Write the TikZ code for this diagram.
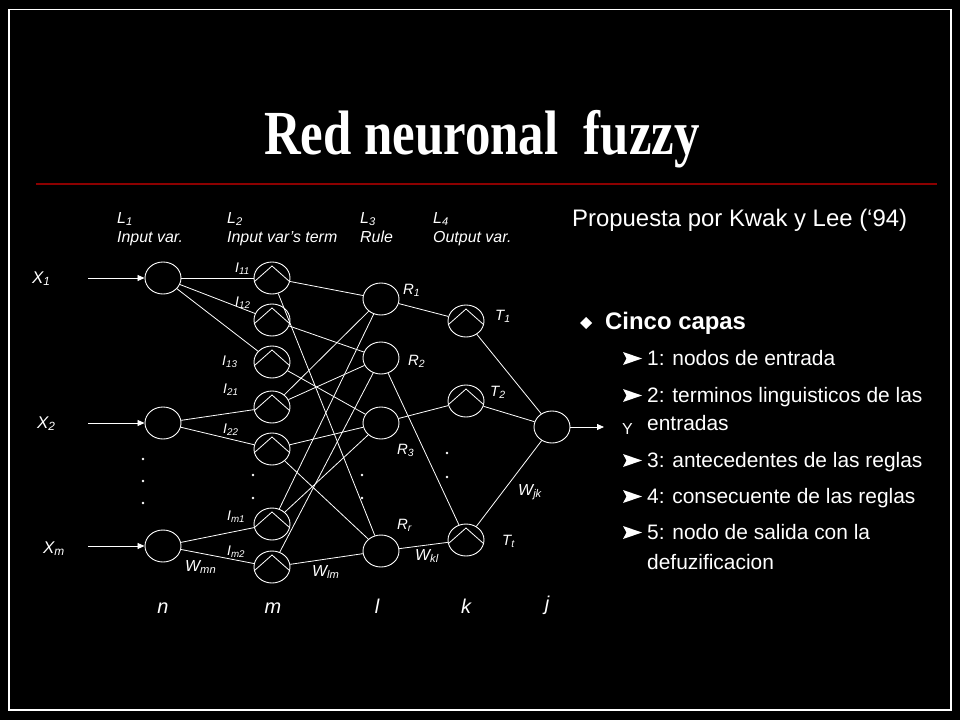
\documentclass[tikz,border=0pt]{standalone}
\usepackage{graphicx}
\usepackage{fontspec}
\setmainfont{Liberation Sans}
\newfontfamily\titlefont{Liberation Serif}
\usetikzlibrary{shapes.geometric,arrows.meta}
\newcommand\myfs[1]{\fontsize{#1}{#1}\selectfont}
\newcommand\sbs[1]{\textsubscript{#1}}
\definecolor{titleline}{RGB}{140,0,0}
\begin{document}
\begin{tikzpicture}[x=1bp,y=-1bp,
  every node/.style={text=white, inner sep=0pt},
  neuron/.style={ellipse, draw=white, line width=0.9bp, minimum width=36bp, minimum height=32bp, inner sep=0pt},
  conn/.style={draw=white, line width=0.8bp},
  arr/.style={conn, -{Triangle[length=7bp,width=6bp]}},
  lbl/.style={anchor=base west, font=\itshape\myfs{16}},
  tlbl/.style={anchor=base west, font=\itshape\myfs{14}},
  rlbl/.style={anchor=base west, font=\itshape\myfs{15}},
  wlbl/.style={anchor=base west, font=\itshape\myfs{16}},
  xlbl/.style={anchor=base west, font=\itshape\myfs{17}},
  blbl/.style={anchor=base, font=\itshape\myfs{20}},
  item/.style={anchor=base west, font=\myfs{21}},
  dotmark/.style={fill=white}
]
\fill[black] (0,0) rectangle (960,720);
\useasboundingbox (0,0) rectangle (960,720);
\draw[white, line width=1.5bp] (9,9.5) rectangle (951,710);

% title
\node[anchor=base, font=\titlefont\bfseries\myfs{63}] (title) at (482,155) {\scalebox{0.81}[1]{Red neuronal\hspace{0.25em} fuzzy}};
\draw[titleline, line width=1.5bp] (36,184) -- (937,184);

% layer headers
\node[lbl] (h1a) at (117,223) {L\sbs{1}};
\node[lbl] (h1b) at (117,242) {Input var.};
\node[lbl] (h2a) at (227,223) {L\sbs{2}};
\node[lbl] (h2b) at (227,242) {Input var’s term};
\node[lbl] (h3a) at (360,223) {L\sbs{3}};
\node[lbl] (h3b) at (360,242) {Rule};
\node[lbl] (h4a) at (433,223) {L\sbs{4}};
\node[lbl] (h4b) at (433,242) {Output var.};

% neurons
\node[neuron] (x1) at (163,278) {};
\node[neuron] (x2) at (163,423) {};
\node[neuron] (xm) at (163,546) {};
\node[neuron] (i11) at (272,278) {};
\node[neuron] (i12) at (272,320) {};
\node[neuron] (i13) at (272,362) {};
\node[neuron] (i21) at (272,407) {};
\node[neuron] (i22) at (272,449) {};
\node[neuron] (im1) at (272,524) {};
\node[neuron] (im2) at (272,567) {};
\node[neuron] (r1) at (381,299) {};
\node[neuron] (r2) at (381,358) {};
\node[neuron] (r3) at (381,423) {};
\node[neuron] (rr) at (381,551) {};
\node[neuron] (t1) at (466,321) {};
\node[neuron] (t2) at (466,401) {};
\node[neuron] (tt) at (466,540) {};
\node[neuron] (yo) at (552,427) {};

% triangles inside term / output nodes
\foreach \n in {i11,i12,i13,i21,i22,im1,im2,t1,t2,tt}
  \draw[conn] ([xshift=-17.5bp,yshift=-3.5bp]\n.center) -- ([yshift=12bp]\n.center) -- ([xshift=17.5bp,yshift=-3.5bp]\n.center);

% input / output arrows
\coordinate (in1) at (88,278);
\coordinate (in2) at (88,423);
\coordinate (inm) at (88,546);
\coordinate (out) at (604,427);
\draw[arr] (in1) -- (x1);
\draw[arr] (in2) -- (x2);
\draw[arr] (inm) -- (xm);
\draw[arr] (yo) -- (out);

% L1 -> L2
\draw[conn] (x1) -- (i11);
\draw[conn] (x1) -- (i12);
\draw[conn] (x1) -- (i13);
\draw[conn] (x2) -- (i21);
\draw[conn] (x2) -- (i22);
\draw[conn] (xm) -- (im1);
\draw[conn] (xm) -- (im2);

% L2 -> L3
\draw[conn] (i11) -- (r1);
\draw[conn] (i11) -- (rr);
\draw[conn] (i12) -- (r2);
\draw[conn] (i13) -- (r3);
\draw[conn] (i21) -- (r1);
\draw[conn] (i21) -- (r2);
\draw[conn] (i22) -- (r3);
\draw[conn] (i22) -- (rr);
\draw[conn] (im1) -- (r1);
\draw[conn] (im1) -- (r3);
\draw[conn] (im2) -- (r2);
\draw[conn] (im2) -- (rr);

% L3 -> L4
\draw[conn] (r1) -- (t1);
\draw[conn] (r2) -- (tt);
\draw[conn] (r3) -- (t2);
\draw[conn] (rr) -- (tt);

% L4 -> L5
\draw[conn] (t1) -- (yo);
\draw[conn] (t2) -- (yo);
\draw[conn] (tt) -- (yo);

% dots
\foreach \p in {(143,459),(143,481),(143,503),(253,475),(253,498),(362,475),(362,498),(447,453),(447,477)}
  \fill[dotmark] \p circle (1.3);

% node labels
\node[xlbl] (lx1) at (32,283) {X\sbs{1}};
\node[xlbl] (lx2) at (37,428) {X\sbs{2}};
\node[xlbl] (lxm) at (43,553) {X\sbs{m}};
\node[tlbl] (li11) at (235,272) {I\sbs{11}};
\node[tlbl] (li12) at (235,306) {I\sbs{12}};
\node[tlbl] (li13) at (222,365) {I\sbs{13}};
\node[tlbl] (li21) at (223,393) {I\sbs{21}};
\node[tlbl] (li22) at (223,433) {I\sbs{22}};
\node[tlbl] (lim1) at (227,520) {I\sbs{m1}};
\node[tlbl] (lim2) at (227,555) {I\sbs{m2}};
\node[rlbl] (lr1) at (403,294) {R\sbs{1}};
\node[rlbl] (lr2) at (408,365) {R\sbs{2}};
\node[rlbl] (lr3) at (397,454) {R\sbs{3}};
\node[rlbl] (lrr) at (397,529) {R\sbs{r}};
\node[rlbl] (lt1) at (495,320) {T\sbs{1}};
\node[rlbl] (lt2) at (490,396) {T\sbs{2}};
\node[rlbl] (ltt) at (502,545) {T\sbs{t}};
\node[wlbl] (wmn) at (185,571) {W\sbs{mn}};
\node[wlbl] (wlm) at (312,576) {W\sbs{lm}};
\node[wlbl] (wkl) at (415,560) {W\sbs{kl}};
\node[wlbl] (wjk) at (518,495) {W\sbs{jk}};
\node[blbl] (bn) at (163,613) {n};
\node[blbl] (bm) at (273,613) {m};
\node[blbl] (bl) at (377,613) {l};
\node[blbl] (bk) at (466,613) {k};
\node[blbl] (bj) at (547,610) {j};
\node[anchor=base west, font=\myfs{16}] (ly) at (622,434) {Y};

% right text
\node[anchor=base west, font=\myfs{24}] (prop) at (572,226) {Propuesta por Kwak y Lee (‘94)};
\fill[white] (586,317) -- (592,323) -- (586,329) -- (580,323) -- cycle;
\node[anchor=base west, font=\bfseries\myfs{24}] (cinco) at (605,329) {Cinco capas};
\foreach \b in {365,402,467,503,539}
  \fill[white] (642,\b-6.5) -- (623,\b-13) -- (626.5,\b-6.5) -- (623,\b) -- cycle;
\node[item] (it1) at (647,365) {1: nodos de entrada};
\node[item] (it2) at (647,402) {2: terminos linguisticos de las};
\node[item] (it2b) at (647,430) {entradas};
\node[item] (it3) at (647,467) {3: antecedentes de las reglas};
\node[item] (it4) at (647,503) {4: consecuente de las reglas};
\node[item] (it5) at (647,539) {5: nodo de salida con la};
\node[item] (it5b) at (647,569) {defuzificacion};
\end{tikzpicture}
\end{document}
